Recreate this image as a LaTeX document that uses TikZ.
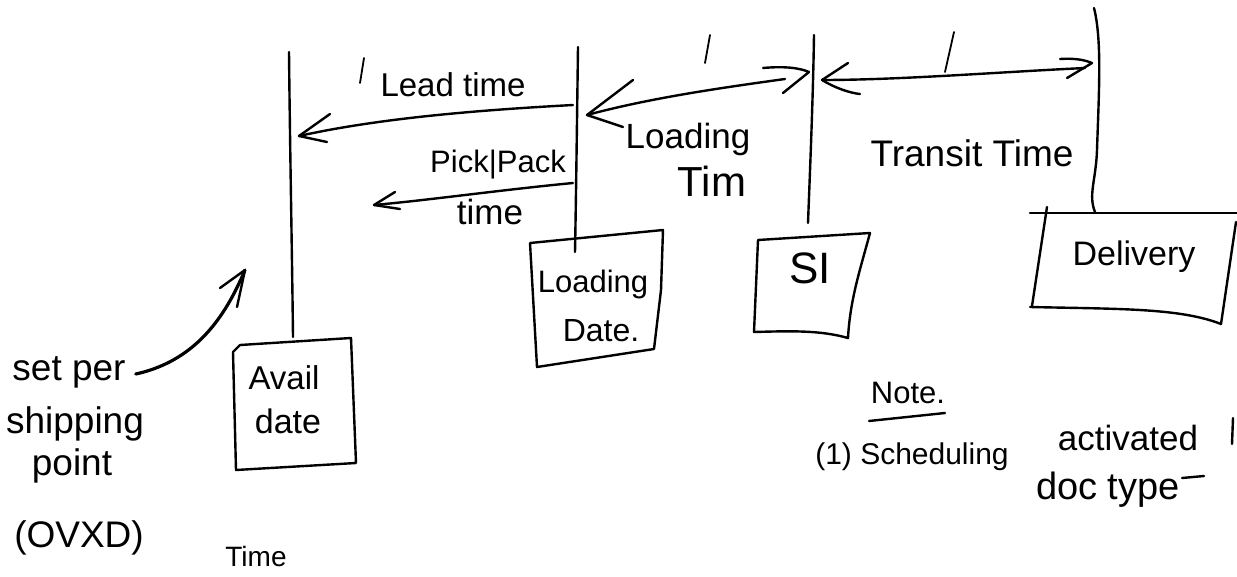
\documentclass[tikz,border=0pt]{standalone}
\usepackage{fontspec}
\setmainfont{Liberation Sans}
\newcommand\hwsize[1]{\fontsize{#1}{#1}\selectfont}
\tikzset{
  ink/.style={line width=2.4pt, line cap=round, line join=round, black},
  thin ink/.style={line width=1.8pt, line cap=round, line join=round, black},
  lbl/.style={inner sep=0pt, text=black, align=center},
}
\begin{document}
\begin{tikzpicture}[x=1pt,y=-1pt]
\useasboundingbox (0,0) rectangle (1237,576);
\fill[white] (0,0) rectangle (1237,576);

% ---------- named points ----------
\coordinate (l1top) at (289,52);   \coordinate (l1bot) at (293,337);
\coordinate (l2top) at (578,47);   \coordinate (l2bot) at (575,252);
\coordinate (l3top) at (814,35);   \coordinate (l3bot) at (808,223);
\coordinate (l4top) at (1094,8);   \coordinate (l4bot) at (1095,212);

% ---------- boxes ----------
% Avail date
\draw[ink] (240,345) -- (351,338) -- (356,463) -- (236,470) -- (233,352) -- cycle;
\node[lbl,font=\hwsize{33}] (avail) at (284,378) {Avail};
\node[lbl,font=\hwsize{34}] (availdate) at (288,421) {date};
% Loading Date.
\draw[ink] (530,243) -- (663,230) -- (661,290) -- (654,349) -- (537,367) -- cycle;
\node[lbl,font=\hwsize{31}] (ldbox) at (593,284) {Loading};
\node[lbl,font=\hwsize{32}] (ldboxdate) at (601,331) {Date.};
% SI
\draw[ink] (758,240) -- (870,233) .. controls (860,270) and (850,300) .. (848,338)
  .. controls (820,330) and (790,331) .. (754,332) -- cycle;
\node[lbl,font=\hwsize{44}] (si) at (810,268) {SI};
% Delivery
\draw[ink] (1030,213) -- (1237,213);
\draw[ink] (1047,207) -- (1032,306);
\draw[ink] (1030,307) .. controls (1120,309) and (1180,308) .. (1221,324);
\draw[ink] (1236,222) -- (1221,324);
\node[lbl,font=\hwsize{34}] (delivery) at (1134,257) {Delivery};

% ---------- vertical time lines ----------
\draw[ink] (l1top) .. controls (290,150) and (292,250) .. (l1bot);
\draw[ink] (l2top) .. controls (577,120) and (576,200) .. (l2bot);
\draw[ink] (l3top) .. controls (813,100) and (810,170) .. (l3bot);
\draw[ink] (l4top) .. controls (1102,40) and (1099,90) .. (1097,150)
  .. controls (1096,180) and (1088,195) .. (l4bot);

% ---------- arrows ----------
% Lead time
\coordinate (leadR) at (573,105); \coordinate (leadL) at (299,136);
\draw[ink] (leadR) .. controls (480,110) and (380,118) .. (leadL);
\draw[ink] (330,114) -- (leadL) -- (327,142);
\node[lbl,font=\hwsize{33}] (leadtxt) at (453,85) {Lead time};
\draw[thin ink] (364,58) -- (360,83);
% Pick|Pack time
\coordinate (pickR) at (573,183); \coordinate (pickL) at (374,205);
\draw[ink] (pickR) .. controls (500,190) and (430,200) .. (pickL);
\draw[ink] (395,192) -- (pickL) -- (400,209);
\node[lbl,font=\hwsize{31}] (picktxt) at (498,165) {Pick|Pack};
\node[lbl,font=\hwsize{35}] (picktime) at (490,212) {time};
% Loading time (double)
\coordinate (loadL) at (587,115); \coordinate (loadR) at (809,72);
\draw[ink] (loadL) .. controls (650,98) and (720,88) .. (785,79);
\draw[ink] (633,80) -- (loadL) -- (623,127);
\draw[ink] (763,68) .. controls (785,66) and (800,68) .. (loadR) -- (783,93);
\draw[thin ink] (710,35) -- (705,63);
\node[lbl,font=\hwsize{35}] (loadtxt) at (688,139) {Loading};
\node[lbl,font=\hwsize{42}] (loadtim) at (712,181) {Tim};
% Transit time (double)
\coordinate (trL) at (822,80); \coordinate (trR) at (1092,63);
\draw[ink] (trL) .. controls (900,80) and (1000,72) .. (1085,68);
\draw[ink] (848,63) -- (trL) .. controls (835,88) and (850,93) .. (860,94);
\draw[ink] (1060,59) .. controls (1075,58) and (1085,60) .. (trR) -- (1067,78);
\draw[thin ink] (954,32) -- (945,72);
\node[lbl,font=\hwsize{37}] (trtxt) at (972,153) {Transit Time};

% ---------- shipping point note ----------
\node[lbl,font=\hwsize{37}] (setper) at (69,372) {set per};
\node[lbl,font=\hwsize{37}] (shipping) at (75,424) {shipping};
\node[lbl,font=\hwsize{37}] (point) at (72,466) {point};
\node[lbl,font=\hwsize{37}] (ovxd) at (79,538) {(OVXD)};
\coordinate (spTip) at (245,270);
\draw[line width=3.2pt, line cap=round] (setper.east) ++(10,2) .. controls (200,360) and (228,310) .. (spTip);
\draw[ink] (220,288) -- (spTip) -- (237,307);
\node[lbl,font=\hwsize{28}] (bottime) at (256,556) {Time};

% ---------- Note ----------
\node[lbl,font=\hwsize{31}] (note) at (908,393) {Note.};
\draw[ink] (869,421) -- (945,413);
\node[lbl,font=\hwsize{30}] (sched) at (912,457) {(1) Scheduling};
\node[lbl,font=\hwsize{35}] (activated) at (1128,438) {activated};
\node[lbl,font=\hwsize{38}] (doctype) at (1108,490) {doc type};
\draw[ink] (doctype.east) ++(2,-12) -- ++(22,-2);
\draw[ink] (1233,418) -- (1232,444);

\end{tikzpicture}
\end{document}
